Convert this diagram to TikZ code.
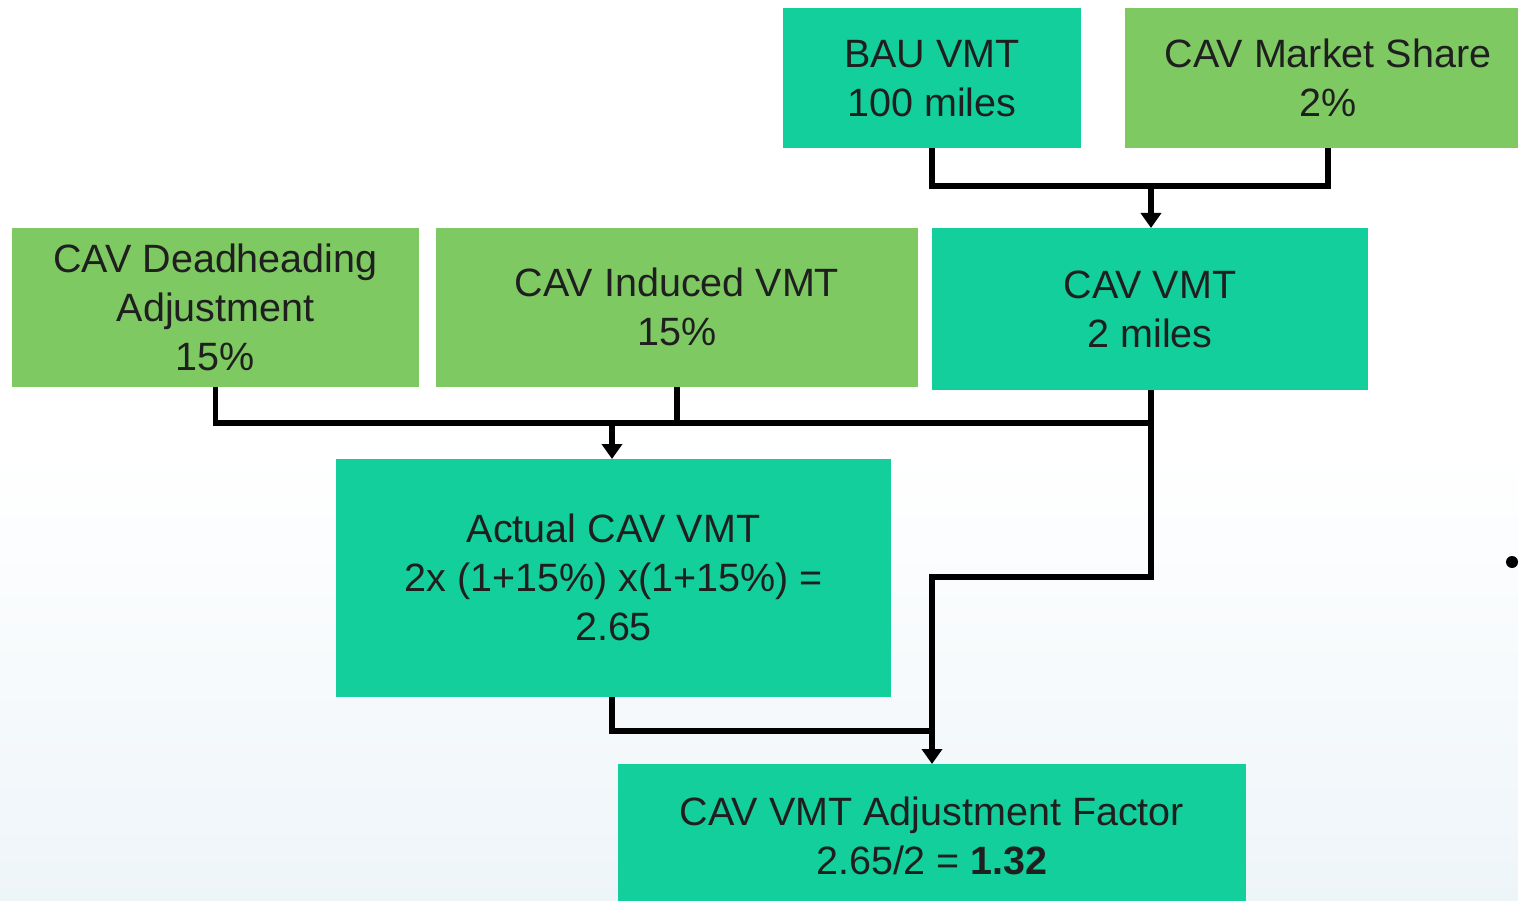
\documentclass[tikz,border=0pt]{standalone}
\usepackage{fontspec}
\setmainfont{Liberation Sans}
\usetikzlibrary{arrows.meta,calc}
\definecolor{teal}{RGB}{18,207,155}
\definecolor{leaf}{RGB}{126,201,98}
\definecolor{bgbot}{RGB}{238,245,249}
\newcommand\boxtext[1]{\raisebox{-4pt}[\height][\depth]{\begin{tabular}{@{}c@{}}#1\end{tabular}}}
\tikzset{
  box/.style={rectangle, inner sep=0pt, outer sep=0pt,
    font=\fontsize{39.5}{49}\selectfont, text=black!88},
  tealbox/.style={box, fill=teal},
  leafbox/.style={box, fill=leaf},
  wire/.style={line width=5.5pt, black, line join=miter},
  arr/.style={wire, -{Triangle[width=20pt,length=15pt]}}
}
\begin{document}
\begin{tikzpicture}[x=1pt,y=-1pt]
\useasboundingbox (0,0) rectangle (1518,901);
\fill[white] (0,0) rectangle (1518,450);
\shade[top color=white, bottom color=bgbot] (0,450) rectangle (1518,901);
\begin{scope}
\clip (0,0) rectangle (1518,901);
\node[tealbox, minimum width=298, minimum height=140] (bau) at (932,78) {\boxtext{BAU VMT\\100 miles}};
\node[leafbox, minimum width=406, minimum height=140] (share) at (1328,78) {\boxtext{CAV Market Share\\2\%}};
\node[leafbox, minimum width=407, minimum height=159] (dead) at (215.5,307.5) {\boxtext{CAV Deadheading\\Adjustment\\15\%}};
\node[leafbox, minimum width=482, minimum height=159] (induced) at (677,307.5) {\boxtext{CAV Induced VMT\\15\%}};
\node[tealbox, minimum width=436, minimum height=162] (cav) at (1150,309) {\boxtext{CAV VMT\\2 miles}};
\node[tealbox, minimum width=555, minimum height=238] (actual) at (613.5,578) {\boxtext{Actual CAV VMT\\2x (1+15\%) x(1+15\%) =\\2.65}};
\node[tealbox, minimum width=628, minimum height=144] (factor) at (932,836) {\boxtext{CAV VMT Adjustment Factor\\2.65/2 = \textbf{1.32}}};

\coordinate (j1) at (1151,186);
\coordinate (j2) at (612,423);
\coordinate (j3) at (1151,423);
\coordinate (j4) at (1151,577);
\coordinate (j5) at (932,731);

\draw[wire] (bau.south) |- (j1) -| (share.south);
\draw[arr] (j1) -- (j1 |- cav.north);
\draw[wire] (dead.south) |- (j3);
\draw[wire] (induced.south) -- (induced.south |- j3);
\draw[arr] (j2) -- (j2 |- actual.north);
\draw[arr] (cav.south -| j3) -- (j4) -| (factor.north);
\draw[wire] (actual.south -| j2) |- (j5);

\fill[black] (1512,562) circle (6);
\end{scope}
\end{tikzpicture}
\end{document}
